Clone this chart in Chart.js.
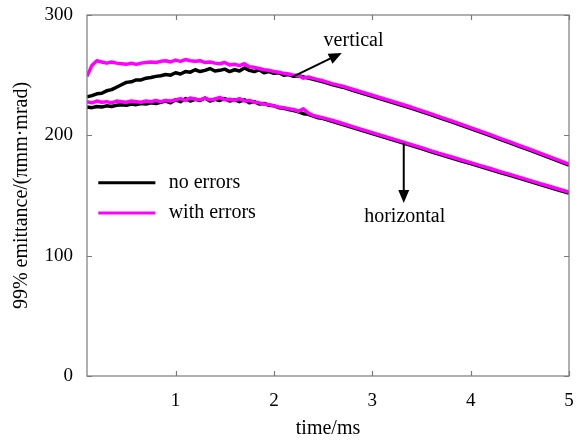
<!DOCTYPE html>
<html>
<head>
<meta charset="utf-8">
<script src="https://cdn.jsdelivr.net/npm/chart.js@4.4.1/dist/chart.umd.min.js"></script>
<style>
html,body{margin:0;padding:0;background:#fff;}
canvas{display:block;}
</style>
</head>
<body>
<canvas id="c" width="584" height="442"></canvas>
<script>
// time (ms)
const times = [0.10,0.15,0.20,0.25,0.30,0.35,0.40,0.45,0.50,0.55,0.60,0.65,0.70,0.75,0.80,0.85,0.90,0.95,
  1.00,1.05,1.10,1.15,1.20,1.25,1.30,1.35,1.40,1.45,1.50,1.55,1.60,1.65,1.70,1.75,1.80,1.85,1.90,1.95,
  2.00,2.05,2.10,2.15,2.20,2.25,2.30,2.35,2.40,2.45,2.50,
  2.6,2.7,2.8,2.9,3.0,3.1,3.2,3.3,3.4,3.5,3.6,3.7,3.8,3.9,4.0,4.1,4.2,4.3,4.4,4.5,4.6,4.7,4.8,4.9,5.0];

// vertical emittance, no errors
const vertNoErr = [232,233,234.5,235,237,238,240,242,244,244.5,246,246,247.5,248,249,249.5,250.5,250,
  252,251,253,252.5,254.5,253,254,255.5,253.5,254,255,253,254.5,253.5,256,254,253,254.5,252,253,
  251.5,252,250,250.5,249,249.5,248.5,247.5,246.5,245.5,244.5,
  242,240,237.5,235,232.5,230,227.5,225,222.5,219.8,217,214.2,211.4,208.5,205.6,202.7,199.7,196.7,193.7,190.7,187.7,184.6,181.5,178.4,175.3];

// vertical emittance, with errors
const vertWithErr = [249,258,262,261,260,261,260,259.5,259,260,259,260,260.5,261,260.5,261.5,262,261,
  262.5,261.5,263,262,261.5,262,260.5,261,260,259.5,260.5,258.5,259,258,259.5,257,256.5,255.5,254.5,254,
  253,252.5,251.5,251,250,250,247.5,248.5,247.3,246.3,245.3,
  242.8,240.8,238.3,235.8,233.3,230.8,228.3,225.8,223.3,220.6,217.8,215,212.2,209.3,206.4,203.5,200.5,197.5,194.5,191.5,188.5,185.4,182.3,179.2,176.1];

// horizontal emittance, no errors
const horNoErr = [223.5,223,224,223.5,224.5,224,225,225.5,225,226,225.5,226.5,226,227,226.5,227.5,228.5,227,
  229.5,228,230.5,228.5,230,229,231,228.5,230,229,230.5,228.5,229.5,228,229.5,227,228,226,226.5,225,
  224.5,223,222.5,221.5,220.5,219.5,218,217.5,216,214.5,214,
  211.5,209,206.5,204,201.5,199,196.5,194,191.5,189,186.3,183.8,181.4,178.9,176.5,174,171.6,169.1,166.7,164.2,161.8,159.3,156.9,154.4,152];

// horizontal emittance, with errors
const horWithErr = [228,227,228.5,227.5,228,227,228.5,228,227.5,228.5,228,227.5,228.5,228,229,228,229,228.5,
  229.5,230.5,229,231,230,229.5,231,229.5,230,231.5,229.5,230,229,230.5,228.5,229,227.5,227,226,225.5,
  224.5,223.5,223,222,221.5,220,222,218.5,216.5,215.5,214.5,
  212.3,209.8,207.3,204.8,202.3,199.8,197.3,194.8,192.3,189.8,187.1,184.6,182.2,179.7,177.3,174.8,172.4,169.9,167.5,165,162.6,160.1,157.7,155.2,152.8];

const xTicks = [1,2,3,4,5];
const yTicks = [0,100,200,300];
const legendLabels = ['no errors','with errors'];
const seriesColors = ['#000000','#ff00ff'];

const SERIF = '"Liberation Serif","Times New Roman",serif';
const toPts = arr => times.map((t,i)=>({x:t,y:arr[i]}));

const annotations = {
  vertical: {text:'vertical', tx:2.81, ty:279, from:[2.19,248.5], to:[2.69,268.4]},
  horizontal: {text:'horizontal', tx:3.33, ty:132, from:[3.32,193.6], to:[3.32,143.8]}
};

function arrow(ctx, x1, y1, x2, y2) {
  const ang = Math.atan2(y2-y1, x2-x1);
  const hl = 13, hw = 5.5;
  const bx = x2 - hl*Math.cos(ang), by = y2 - hl*Math.sin(ang);
  ctx.beginPath();
  ctx.moveTo(x1,y1); ctx.lineTo(bx,by);
  ctx.lineWidth = 2; ctx.strokeStyle = '#000'; ctx.stroke();
  ctx.beginPath();
  ctx.moveTo(x2,y2);
  ctx.lineTo(bx + hw*Math.sin(ang), by - hw*Math.cos(ang));
  ctx.lineTo(bx - hw*Math.sin(ang), by + hw*Math.cos(ang));
  ctx.closePath(); ctx.fillStyle = '#000'; ctx.fill();
}

const framePlugin = {
  id:'frame',
  afterDraw(chart) {
    const {ctx, chartArea:a, scales:{x,y}} = chart;
    ctx.save();
    ctx.strokeStyle = '#7a7a7a'; ctx.lineWidth = 1.2;
    ctx.strokeRect(a.left, a.top, a.right-a.left, a.bottom-a.top);
    ctx.beginPath();
    xTicks.forEach(v => {
      const px = Math.round(x.getPixelForValue(v))+0.5;
      ctx.moveTo(px, a.bottom); ctx.lineTo(px, a.bottom-5);
      ctx.moveTo(px, a.top); ctx.lineTo(px, a.top+5);
    });
    yTicks.forEach(v => {
      const py = Math.round(y.getPixelForValue(v))+0.5;
      ctx.moveTo(a.left, py); ctx.lineTo(a.left+5, py);
      ctx.moveTo(a.right, py); ctx.lineTo(a.right-5, py);
    });
    ctx.stroke();

    // annotations
    ctx.font = '20px ' + SERIF;
    ctx.fillStyle = '#000';
    ctx.textAlign = 'center'; ctx.textBaseline = 'middle';
    Object.values(annotations).forEach(an => {
      ctx.fillText(an.text, x.getPixelForValue(an.tx), y.getPixelForValue(an.ty));
      arrow(ctx, x.getPixelForValue(an.from[0]), y.getPixelForValue(an.from[1]),
                 x.getPixelForValue(an.to[0]), y.getPixelForValue(an.to[1]));
    });

    // legend (positioned in data space)
    const legX0 = x.getPixelForValue(0.215), legX1 = x.getPixelForValue(0.795), legTX = x.getPixelForValue(0.93);
    const legY = [y.getPixelForValue(160.5), y.getPixelForValue(135.5)];
    legendLabels.forEach((lab,i) => {
      ctx.beginPath();
      ctx.moveTo(legX0, legY[i]); ctx.lineTo(legX1, legY[i]);
      ctx.strokeStyle = seriesColors[i]; ctx.lineWidth = 3; ctx.stroke();
      ctx.fillStyle = '#000'; ctx.textAlign = 'left';
      ctx.fillText(lab, legTX, legY[i]);
    });
    ctx.restore();
  }
};

new Chart(document.getElementById('c'), {
  type:'line',
  data:{
    datasets:[
      {label:'horizontal with errors', data:toPts(horWithErr), borderColor:seriesColors[1], borderWidth:3.5},
      {label:'vertical with errors', data:toPts(vertWithErr), borderColor:seriesColors[1], borderWidth:3.5},
      {label:'horizontal no errors', data:toPts(horNoErr), borderColor:seriesColors[0], borderWidth:3.5},
      {label:'vertical no errors', data:toPts(vertNoErr), borderColor:seriesColors[0], borderWidth:3.5}
    ]
  },
  options:{
    responsive:false, animation:false, devicePixelRatio:1,
    elements:{point:{radius:0}, line:{tension:0, borderJoinStyle:'round'}},
    layout:{padding:{top:15, right:15, left:0, bottom:0}},
    plugins:{legend:{display:false}, tooltip:{enabled:false}},
    scales:{
      x:{type:'linear', min:0.1, max:5,
         afterBuildTicks: s => { s.ticks = xTicks.map(v=>({value:v})); },
         afterFit: s => { s.height = 66; s.paddingLeft = 0; s.paddingRight = 0; },
         grid:{display:false, drawTicks:false}, border:{display:false},
         ticks:{padding:14, color:'#000', font:{family:SERIF, size:19}},
         title:{display:true, text:'time/ms', color:'#000', font:{family:SERIF, size:20}, padding:{top:0,bottom:1}}
      },
      y:{type:'linear', min:0, max:300,
         afterBuildTicks: s => { s.ticks = yTicks.map(v=>({value:v})); },
         afterFit: s => { s.width = 87; s.paddingTop = 0; s.paddingBottom = 0; },
         grid:{display:false, drawTicks:false}, border:{display:false},
         ticks:{padding:14, color:'#000', font:{family:SERIF, size:19}},
         title:{display:true, text:'99% emittance/(πmm·mrad)', color:'#000', font:{family:SERIF, size:20}, padding:{top:10,bottom:0}}
      }
    }
  },
  plugins:[framePlugin]
});
</script>
</body>
</html>
